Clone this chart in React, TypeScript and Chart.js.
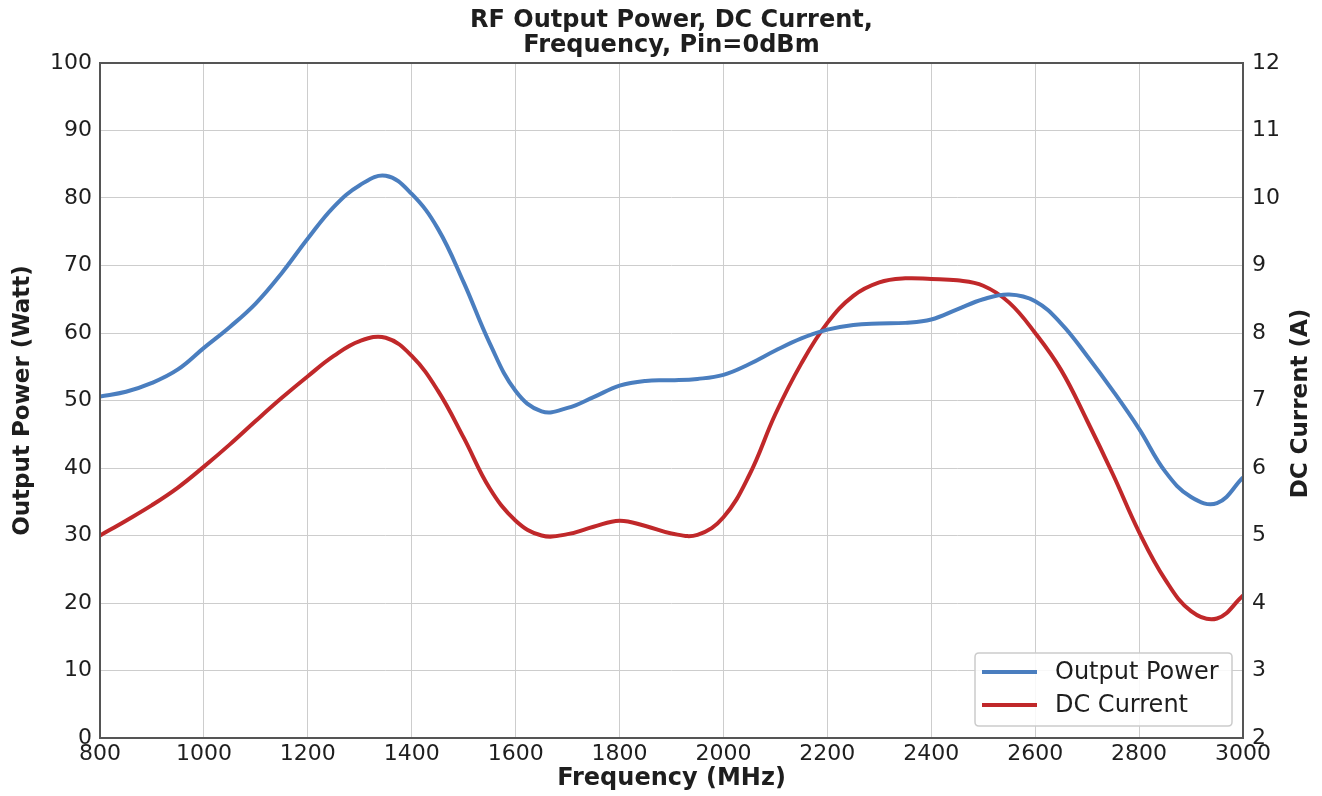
import React, { useEffect, useRef } from "react";
import { Chart, registerables } from "chart.js";

Chart.register(...registerables);

// ---- Data ----
const frequencies = [
  800, 850, 900, 950, 1000, 1050, 1100, 1150, 1200, 1250, 1300, 1350, 1400, 1450, 1500,
  1550, 1600, 1650, 1700, 1750, 1800, 1850, 1900, 1950, 2000, 2050, 2100, 2150, 2200,
  2250, 2300, 2350, 2400, 2450, 2500, 2550, 2600, 2650, 2700, 2750, 2800, 2850, 2900,
  2950, 3000,
];

const outputPowerW = [
  50.6, 51.3, 52.6, 54.6, 57.8, 60.9, 64.4, 68.9, 74.0, 78.7, 81.9, 83.3, 80.6, 75.5, 67.5,
  58.5, 51.4, 48.4, 48.9, 50.5, 52.2, 52.9, 53.0, 53.2, 53.8, 55.4, 57.4, 59.2, 60.5,
  61.2, 61.4, 61.5, 62.0, 63.5, 65.0, 65.7, 64.7, 61.4, 56.6, 51.4, 45.8, 39.5, 35.7,
  34.8, 38.6,
];

const dcCurrentA = [
  5.0, 5.22, 5.45, 5.71, 6.02, 6.35, 6.7, 7.04, 7.36, 7.66, 7.88, 7.93, 7.66, 7.15, 6.45,
  5.7, 5.22, 5.0, 5.02, 5.13, 5.22, 5.14, 5.03, 5.01, 5.27, 5.9, 6.8, 7.55, 8.15,
  8.55, 8.75, 8.81, 8.8, 8.78, 8.7, 8.45, 8.0, 7.45, 6.7, 5.9, 5.05, 4.35, 3.88,
  3.77, 4.11,
];

const seriesLabels = ["Output Power", "DC Current"];
const titleLines = ["RF Output Power, DC Current,", "Frequency, Pin=0dBm"];
const xAxisTitle = "Frequency (MHz)";
const leftAxisTitle = "Output Power (Watt)";
const rightAxisTitle = "DC Current (A)";

const xRange = [800, 3000];
const xStep = 200;
const powerRange = [0, 100];
const powerStep = 10;
const currentRange = [2, 12];
const currentStep = 1;

// ---- Styles ----
const FONT = "'DejaVu Sans', sans-serif";
const BLUE = "#4a7ebf";
const RED = "#c0282a";
const TEXT = "#1e1e1e";
const GRID = "#cdcdcd";
const FRAME = "#555555";

const framePlugin = {
  id: "frame",
  afterDatasetsDraw(chart: any) {
    const { ctx, chartArea: a } = chart;
    ctx.save();
    ctx.strokeStyle = FRAME;
    ctx.lineWidth = 2;
    ctx.strokeRect(a.left, a.top, a.right - a.left, a.bottom - a.top);
    ctx.restore();
  },
};

const rightTitlePlugin = {
  id: "rightTitle",
  afterDraw(chart: any) {
    const { ctx, chartArea: a } = chart;
    ctx.save();
    ctx.translate(1301, (a.top + a.bottom) / 2 + 3);
    ctx.rotate(-Math.PI / 2);
    ctx.font = `bold 23px ${FONT}`;
    ctx.fillStyle = TEXT;
    ctx.textAlign = "center";
    ctx.textBaseline = "middle";
    ctx.fillText(rightAxisTitle, 0, 0);
    ctx.restore();
  },
};

const boxLegendPlugin = {
  id: "boxLegend",
  afterDraw(chart: any) {
    const { ctx, chartArea: a } = chart;
    const w = 257;
    const h = 73;
    const x = a.right - 11 - w;
    const y = a.bottom - 12 - h;
    ctx.save();
    ctx.beginPath();
    const r = 4;
    ctx.moveTo(x + r, y);
    ctx.lineTo(x + w - r, y);
    ctx.quadraticCurveTo(x + w, y, x + w, y + r);
    ctx.lineTo(x + w, y + h - r);
    ctx.quadraticCurveTo(x + w, y + h, x + w - r, y + h);
    ctx.lineTo(x + r, y + h);
    ctx.quadraticCurveTo(x, y + h, x, y + h - r);
    ctx.lineTo(x, y + r);
    ctx.quadraticCurveTo(x, y, x + r, y);
    ctx.closePath();
    ctx.fillStyle = "rgba(255,255,255,0.85)";
    ctx.fill();
    ctx.strokeStyle = "#cccccc";
    ctx.lineWidth = 1.5;
    ctx.stroke();
    chart.data.datasets.forEach((ds: any, i: number) => {
      const ly = y + 19 + i * 33;
      ctx.beginPath();
      ctx.moveTo(x + 7, ly);
      ctx.lineTo(x + 62, ly);
      ctx.strokeStyle = ds.borderColor;
      ctx.lineWidth = 4;
      ctx.stroke();
      ctx.font = `24px ${FONT}`;
      ctx.fillStyle = TEXT;
      ctx.textAlign = "left";
      ctx.textBaseline = "middle";
      ctx.fillText(ds.label, x + 80, ly + 1);
    });
    ctx.restore();
  },
};

export default function App() {
  const canvasRef = useRef<HTMLCanvasElement | null>(null);

  useEffect(() => {
    document.body.style.margin = "0";
    const canvas = canvasRef.current;
    if (!canvas) return;

    const chart = new Chart(canvas, {
      type: "line",
      data: {
        datasets: [
          {
            label: seriesLabels[0],
            data: frequencies.map((f, i) => ({ x: f, y: outputPowerW[i] })),
            borderColor: BLUE,
            backgroundColor: BLUE,
            borderWidth: 4,
            pointRadius: 0,
            tension: 0.4,
            yAxisID: "y",
          },
          {
            label: seriesLabels[1],
            data: frequencies.map((f, i) => ({ x: f, y: dcCurrentA[i] })),
            borderColor: RED,
            backgroundColor: RED,
            borderWidth: 4,
            pointRadius: 0,
            tension: 0.4,
            yAxisID: "y1",
          },
        ],
      },
      options: {
        animation: false,
        responsive: false,
        devicePixelRatio: 1,
        layout: { padding: 0 },
        plugins: {
          legend: { display: false },
          tooltip: { enabled: false },
          title: {
            display: true,
            text: titleLines,
            fullSize: false,
            color: TEXT,
            font: { family: FONT, size: 24, weight: "bold", lineHeight: 25 / 24 },
            padding: { top: 8, bottom: 5 },
          },
        },
        scales: {
          x: {
            type: "linear",
            min: xRange[0],
            max: xRange[1],
            ticks: {
              stepSize: xStep,
              color: TEXT,
              font: { family: FONT, size: 22 },
              padding: 3,
              maxRotation: 0,
              callback: (v: any) => String(v),
            },
            grid: { color: GRID, lineWidth: 1, drawTicks: false },
            border: { display: false },
            title: {
              display: true,
              text: xAxisTitle,
              color: TEXT,
              font: { family: FONT, size: 24, weight: "bold", lineHeight: 1.2 },
              padding: { top: 0, bottom: 3 },
            },
            afterFit(scale: any) {
              scale.height = 58;
            },
          },
          y: {
            type: "linear",
            position: "left",
            min: powerRange[0],
            max: powerRange[1],
            ticks: {
              stepSize: powerStep,
              color: TEXT,
              font: { family: FONT, size: 22 },
              padding: 8,
            },
            grid: { color: GRID, lineWidth: 1, drawTicks: false },
            border: { display: false },
            title: {
              display: true,
              text: leftAxisTitle,
              color: TEXT,
              font: { family: FONT, size: 23, weight: "bold", lineHeight: 1.2 },
              padding: { top: 9, bottom: 0 },
            },
            afterFit(scale: any) {
              scale.width = 100;
            },
          },
          y1: {
            type: "linear",
            position: "right",
            min: currentRange[0],
            max: currentRange[1],
            ticks: {
              stepSize: currentStep,
              color: TEXT,
              font: { family: FONT, size: 22 },
              padding: 9,
            },
            grid: { drawOnChartArea: false, drawTicks: false },
            border: { display: false },
            afterFit(scale: any) {
              scale.width = 79;
            },
          },
        },
      },
      plugins: [framePlugin, rightTitlePlugin, boxLegendPlugin],
    } as any);

    return () => chart.destroy();
  }, []);

  return (
    <div style={{ width: 1322, height: 796, background: "#ffffff" }}>
      <canvas ref={canvasRef} width={1322} height={796} style={{ display: "block" }} />
    </div>
  );
}
